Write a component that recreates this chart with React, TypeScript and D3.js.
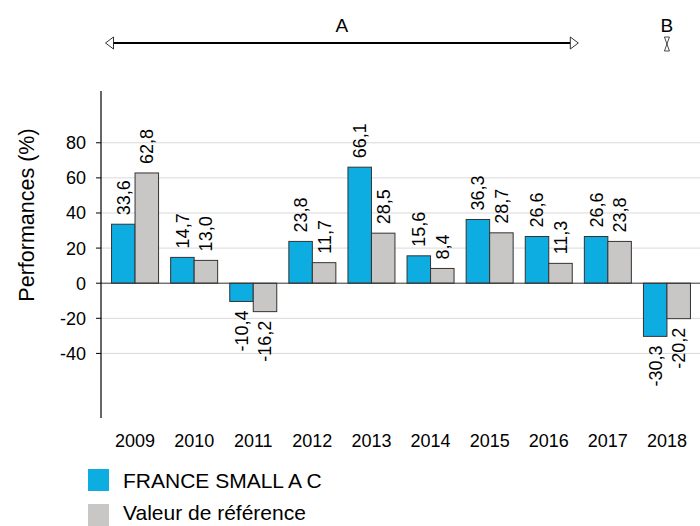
import React from "react";
import * as d3 from "d3";

const years = ["2009", "2010", "2011", "2012", "2013", "2014", "2015", "2016", "2017", "2018"];
const fundValues = [33.6, 14.7, -10.4, 23.8, 66.1, 15.6, 36.3, 26.6, 26.6, -30.3];
const refValues = [62.8, 13.0, -16.2, 11.7, 28.5, 8.4, 28.7, 11.3, 23.8, -20.2];
const yTicks = [80, 60, 40, 20, 0, -20, -40];
const seriesNames = ["FRANCE SMALL A C", "Valeur de référence"];
const colors = ["#0EADE1", "#C8C7C6"];
const periodA = { label: "A", from: "2009", to: "2016" };
const periodB = { label: "B", at: "2018" };

const fmt = (v: number) => v.toFixed(1).replace(".", ",");

export default function App() {
  const W = 700, H = 526;
  const axisX = 101;
  const x = d3.scaleBand<string>().domain(years).range([105.5, 696.5]).paddingInner(0).paddingOuter(0);
  const y = d3.scaleLinear().domain([-76.8, 109.5]).range([418, 91]);
  const barW = 23.5;
  const font = "'Liberation Sans', Arial, sans-serif";

  const series = [fundValues, refValues];

  const ax1 = x(periodA.from)!;
  const ax2 = x(periodA.to)! + x.bandwidth();
  const ay = 43;
  const bx = x(periodB.at)! + x.bandwidth() / 2;

  return (
    <svg width={W} height={H} style={{ position: "absolute", left: 0, top: 0 }} fontFamily={font}>
      <rect x={0} y={0} width={W} height={H} fill="#fff" />
      {yTicks.map((t) => (
        <g key={t}>
          {t !== 0 && <line x1={axisX} x2={W} y1={y(t)} y2={y(t)} stroke="#D9D9D9" strokeWidth={1} />}
          <line x1={axisX - 5} x2={axisX} y1={y(t)} y2={y(t)} stroke="#000" strokeWidth={1} />
          <text x={86} y={y(t)} dy="0.36em" textAnchor="end" fontSize={18} fill="#000">
            {t}
          </text>
        </g>
      ))}
      {years.map((yr, i) => {
        const cx = x(yr)! + x.bandwidth() / 2;
        return (
          <g key={yr}>
            {series.map((vals, s) => {
              const v = vals[i];
              const bx0 = cx - barW + s * barW;
              const top = Math.min(y(v), y(0));
              const h = Math.abs(y(v) - y(0));
              const lx = bx0 + barW / 2;
              const ly = v >= 0 ? y(v) - 9 : y(v) + 9;
              return (
                <g key={s}>
                  <rect x={bx0} y={top} width={barW} height={h} fill={colors[s]} stroke="#333" strokeWidth={1} />
                  <text
                    transform={`translate(${lx},${ly}) rotate(-90)`}
                    dy="0.36em"
                    textAnchor={v >= 0 ? "start" : "end"}
                    fontSize={18}
                    fill="#000"
                  >
                    {fmt(v)}
                  </text>
                </g>
              );
            })}
            <text x={cx} y={447} textAnchor="middle" fontSize={18} fill="#000">
              {yr}
            </text>
          </g>
        );
      })}
      <line x1={axisX} x2={W} y1={y(0)} y2={y(0)} stroke="#333" strokeWidth={1} />
      <line x1={axisX} x2={axisX} y1={91} y2={418} stroke="#000" strokeWidth={1.2} />
      <text transform={`translate(34,215) rotate(-90)`} textAnchor="middle" fontSize={21.5} fill="#000">
        Performances (%)
      </text>
      <line x1={ax1 + 8} x2={ax2 - 8} y1={ay} y2={ay} stroke="#000" strokeWidth={1.8} />
      <path d={`M${ax1},${ay} L${ax1 + 8},${ay - 6} L${ax1 + 8},${ay + 6} Z`} fill="#fff" stroke="#000" strokeWidth={0.8} />
      <path d={`M${ax2},${ay} L${ax2 - 8},${ay - 6} L${ax2 - 8},${ay + 6} Z`} fill="#fff" stroke="#000" strokeWidth={0.8} />
      <text x={(ax1 + ax2) / 2} y={31.5} textAnchor="middle" fontSize={19} fill="#000">
        {periodA.label}
      </text>
      <text x={bx} y={31.5} textAnchor="middle" fontSize={19} fill="#000">
        {periodB.label}
      </text>
      <path d={`M${bx},${ay + 1} L${bx - 2.5},${ay - 6} L${bx + 2.5},${ay - 6} Z`} fill="#fff" stroke="#000" strokeWidth={0.7} />
      <path d={`M${bx},${ay + 1} L${bx - 2.5},${ay + 8} L${bx + 2.5},${ay + 8} Z`} fill="#fff" stroke="#000" strokeWidth={0.7} />
      {seriesNames.map((n, i) => (
        <g key={n}>
          <rect x={88} y={469 + i * 35} width={21} height={22} fill={colors[i]} />
          <text x={123} y={488 + i * 32} fontSize={21} fill="#000">
            {n}
          </text>
        </g>
      ))}
    </svg>
  );
}
